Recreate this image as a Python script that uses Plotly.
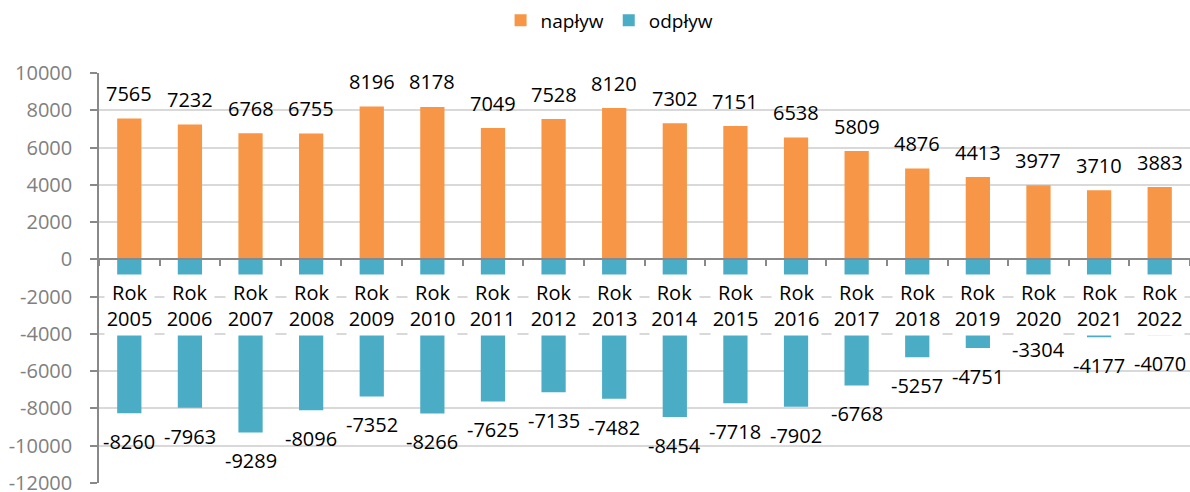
import plotly.graph_objects as go

years = [str(y) for y in range(2005, 2023)]
naplyw = [7565, 7232, 6768, 6755, 8196, 8178, 7049, 7528, 8120, 7302, 7151, 6538, 5809, 4876, 4413, 3977, 3710, 3883]
odplyw = [-8260, -7963, -9289, -8096, -7352, -8266, -7625, -7135, -7482, -8454, -7718, -7902, -6768, -5257, -4751, -3304, -4177, -4070]
y_ticks = list(range(-12000, 10001, 2000))

ORANGE = "#F79646"
BLUE = "#4BACC6"
FONT = "Open Sans"

fig = go.Figure()
fig.add_trace(go.Bar(x=years, y=naplyw, name="napływ", marker=dict(color=ORANGE, line=dict(width=0)), width=0.4))
fig.add_trace(go.Bar(x=years, y=odplyw, name="odpływ", marker=dict(color=BLUE, line=dict(width=0)), width=0.4))

ann = []
for i, v in enumerate(naplyw):
    ann.append(dict(x=i, y=v, xref="x", yref="y", text=str(v), showarrow=False,
                    yanchor="middle", yshift=25, font=dict(family=FONT, size=20, color="#000000")))
for i, v in enumerate(odplyw):
    ann.append(dict(x=i, y=v, xref="x", yref="y", text=str(v), showarrow=False,
                    yanchor="middle", yshift=-28.5, font=dict(family=FONT, size=20, color="#000000")))
for i, x in enumerate(years):
    ann.append(dict(x=i, y=0, xref="x", yref="y", text="Rok<br>" + x, showarrow=False,
                    yanchor="top", yshift=-15, width=47, height=58, bgcolor="#FFFFFF",
                    borderpad=1, font=dict(family=FONT, size=20, color="#000000")))

fig.update_layout(
    width=1190, height=492,
    margin=dict(l=99, r=0, t=73, b=9, autoexpand=False),
    paper_bgcolor="white", plot_bgcolor="white",
    barmode="relative",
    font=dict(family=FONT, size=20, color="#000000"),
    showlegend=True,
    legend=dict(orientation="h", x=0.468, xanchor="center", y=1.128, yanchor="middle",
                font=dict(family=FONT, size=19, color="#000000"), traceorder="normal"),
    annotations=ann,
    xaxis=dict(type="category", anchor="free", position=12 / 22, showline=True,
               linecolor="#898989", linewidth=1.5, ticks="outside", tickson="boundaries",
               ticklen=6, tickcolor="#898989", tickwidth=1.5, showticklabels=False,
               showgrid=False, zeroline=False, range=[-0.5, 17.5], automargin=False),
    yaxis=dict(range=[-12000, 10000], tickvals=y_ticks, ticktext=[str(t) for t in y_ticks],
               showline=True, linecolor="#898989", linewidth=1.5, ticks="outside", ticklen=7,
               tickcolor="#898989", tickwidth=1.5, ticklabelstandoff=14,
               ticklabeloverflow="allow", automargin=False,
               tickfont=dict(family=FONT, size=20, color="#808080"),
               showgrid=True, gridcolor="#D9D9D9", gridwidth=1.5, zeroline=False),
)

fig.write_html("out.html", config={"displayModeBar": False},
               post_script="document.body.style.margin='0';")
